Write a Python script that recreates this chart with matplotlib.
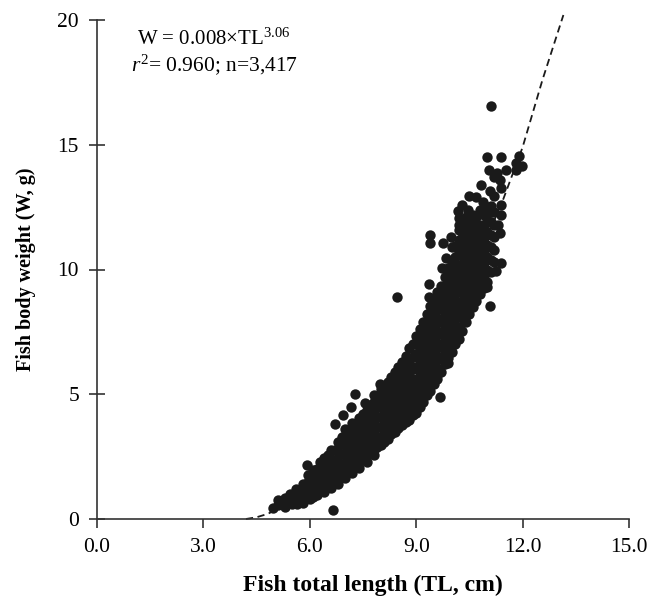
import matplotlib
matplotlib.use("Agg")
import matplotlib.pyplot as plt

plt.rcParams["font.family"] = ["Liberation Serif"]
plt.rcParams["mathtext.fontset"] = "custom"
plt.rcParams["mathtext.rm"] = "Liberation Serif"
plt.rcParams["mathtext.it"] = "Liberation Serif:italic"

INK = "#1a1a1a"

# main cloud (TL, then weights at that TL)
tl_rows = [5.1, 5.3, 5.45, 5.6, 5.8, 5.95, 6.1, 6.2, 6.4, 6.6, 6.8, 7.0, 7.2, 7.4, 7.6, 7.8, 8.0, 8.2,
           8.4, 8.6, 8.8, 9.0, 9.2, 9.4, 9.6, 9.8, 10.0, 10.2, 10.4, 10.6, 10.8, 11.0, 11.2]
weight_rows = [
    [0.55, 0.75],
    [0.6, 0.85],
    [0.7, 1.0],
    [0.65, 0.9, 1.2],
    [0.75, 1.05, 1.4],
    [0.85, 1.15, 1.5, 1.75],
    [0.9, 1.25, 1.6, 1.95],
    [1.0, 1.3, 1.65, 2.0],
    [1.2, 1.5, 1.85, 2.15, 2.45],
    [1.35, 1.7, 2.05, 2.4, 2.75],
    [1.6, 1.95, 2.3, 2.7, 3.1],
    [1.9, 2.2, 2.55, 2.95, 3.3, 3.6],
    [2.1, 2.45, 2.8, 3.2, 3.55, 3.85],
    [2.3, 2.65, 3.05, 3.4, 3.75, 4.05],
    [2.55, 2.9, 3.3, 3.65, 4.0, 4.35],
    [2.75, 3.1, 3.5, 3.9, 4.3, 4.7, 4.95],
    [2.95, 3.3, 3.7, 4.1, 4.5, 4.85, 5.2],
    [3.2, 3.6, 4.0, 4.4, 4.8, 5.15, 5.5],
    [3.5, 3.9, 4.3, 4.7, 5.1, 5.5, 5.9],
    [3.75, 4.15, 4.55, 5.0, 5.4, 5.85, 6.3],
    [3.95, 4.4, 4.85, 5.3, 5.8, 6.3, 6.85],
    [4.25, 4.7, 5.15, 5.6, 6.1, 6.6, 7.0, 7.35],
    [4.7, 5.15, 5.6, 6.1, 6.6, 7.1, 7.55, 7.9],
    [5.15, 5.6, 6.1, 6.6, 7.1, 7.6, 8.1, 8.55],
    [5.6, 6.05, 6.55, 7.05, 7.55, 8.05, 8.6, 9.1],
    [6.2, 6.7, 7.2, 7.7, 8.2, 8.7, 9.2, 9.7],
    [6.7, 7.2, 7.7, 8.2, 8.7, 9.2, 9.7, 10.3],
    [7.2, 7.7, 8.2, 8.7, 9.2, 9.7, 10.2, 10.7, 11.2, 11.6],
    [7.9, 8.4, 8.9, 9.4, 9.9, 10.4, 10.9, 11.3, 11.7, 12.1],
    [8.5, 9.0, 9.5, 10.0, 10.5, 11.0, 11.4, 11.8, 12.2],
    [9.0, 9.5, 10.0, 10.5, 11.0, 11.4, 11.8, 12.4],
    [9.5, 10.0, 10.5, 11.0, 11.5, 12.0, 12.5],
    [10.3, 10.8, 11.3, 11.8, 12.3],
]

# in-between columns, the cloud is nearly solid
tl_rows_mid = [6.3, 6.5, 6.7, 6.9, 7.1, 7.3, 7.5, 7.7, 7.9, 8.1, 8.3, 8.5, 8.7, 8.9, 9.1, 9.3, 9.5, 9.7, 9.9,
               10.1, 10.3, 10.5, 10.7, 10.9, 11.1]
weight_rows_mid = [
    [1.25, 1.6, 2.0, 2.3],
    [1.45, 1.85, 2.2, 2.55],
    [1.6, 1.95, 2.35, 2.75],
    [1.85, 2.2, 2.6, 3.0, 3.3],
    [2.05, 2.4, 2.8, 3.15, 3.5],
    [2.25, 2.6, 3.0, 3.4, 3.75],
    [2.45, 2.8, 3.2, 3.6, 3.95, 4.2],
    [2.7, 3.05, 3.45, 3.85, 4.2, 4.55],
    [2.9, 3.3, 3.7, 4.1, 4.5, 4.8],
    [3.1, 3.5, 3.9, 4.3, 4.7, 5.05, 5.3],
    [3.4, 3.8, 4.2, 4.6, 5.0, 5.35, 5.7],
    [3.65, 4.05, 4.5, 4.9, 5.3, 5.7, 6.1],
    [3.9, 4.3, 4.75, 5.2, 5.65, 6.1, 6.55],
    [4.15, 4.6, 5.05, 5.5, 6.0, 6.5, 7.0],
    [4.5, 4.95, 5.4, 5.9, 6.35, 6.85, 7.3, 7.6],
    [4.95, 5.4, 5.85, 6.35, 6.85, 7.35, 7.85, 8.2],
    [5.4, 5.85, 6.3, 6.8, 7.3, 7.8, 8.3, 8.8],
    [5.9, 6.4, 6.9, 7.4, 7.9, 8.4, 8.9, 9.35],
    [6.45, 6.95, 7.45, 7.95, 8.45, 8.95, 9.45, 9.95],
    [7.0, 7.5, 8.0, 8.5, 9.0, 9.5, 10.0, 10.5, 10.95],
    [7.55, 8.05, 8.55, 9.05, 9.55, 10.05, 10.55, 11.05, 11.5, 11.95],
    [8.2, 8.7, 9.2, 9.7, 10.2, 10.7, 11.2, 11.6, 12.0],
    [8.75, 9.25, 9.75, 10.25, 10.75, 11.2, 11.6, 12.1],
    [9.25, 9.75, 10.25, 10.75, 11.25, 11.7, 12.2],
    [9.9, 10.4, 10.9, 11.4, 11.9, 12.3],
]

# lower edge of the cloud
low_tl = [5.3, 5.5, 5.65, 5.8, 6.0, 6.2, 6.4, 6.6, 6.8, 7.0, 7.2, 7.4, 7.6, 7.8, 9.58, 9.89]
low_w = [0.5, 0.62, 0.62, 0.65, 0.8, 0.95, 1.1, 1.25, 1.4, 1.65, 1.85, 2.05, 2.3, 2.55, 5.77, 6.25]

# separate points around the edge of the cloud
edge_tl = [4.95, 5.92, 6.65, 6.71, 6.94, 7.15, 7.27, 7.55, 7.97, 9.66, 8.45, 11.1, 11.0, 11.4, 11.9, 11.97, 11.8,
           11.8, 11.52, 11.05, 11.27, 11.2, 11.35, 10.82, 11.4, 11.07, 11.2, 10.48, 10.7, 10.87, 10.28, 11.4, 11.12,
           10.17, 10.45, 11.4, 10.22, 10.2, 11.3, 11.35, 9.38, 9.38, 9.97, 9.75, 10.0, 9.83, 9.72, 9.89, 11.38,
           11.24, 9.35, 11.07, 11.0, 9.35]
edge_w = [0.45, 2.17, 0.36, 3.8, 4.17, 4.47, 5.02, 4.66, 5.4, 4.9, 8.9, 16.55, 14.5, 14.5, 14.55, 14.15, 14.27,
          14.0, 14.0, 14.0, 13.87, 13.7, 13.6, 13.4, 13.27, 13.15, 12.95, 12.95, 12.9, 12.7, 12.6, 12.6, 12.55,
          12.35, 12.4, 12.2, 12.05, 11.8, 11.8, 11.45, 11.4, 11.05, 11.3, 11.05, 10.9, 10.45, 10.05, 10.05, 10.25,
          9.95, 9.4, 8.55, 9.3, 8.9]

# dashed fit as drawn
fit_tl = [4.2, 4.5, 4.8, 5.0, 5.5, 6.0, 6.5, 7.0, 7.5, 8.0, 8.5, 9.0, 9.5, 10.0, 10.5, 11.0, 11.45, 12.0, 12.56, 13.15]
fit_w = [0.0, 0.07, 0.2, 0.33, 0.75, 1.25, 1.8, 2.5, 3.3, 4.1, 5.1, 6.1, 7.3, 8.6, 9.9, 11.3, 12.8, 14.9, 17.6, 20.2]

x_ticks = [0, 3, 6, 9, 12, 15]
x_labels = ["0.0", "3.0", "6.0", "9.0", "12.0", "15.0"]
y_ticks = [0, 5, 10, 15, 20]

all_tl = tl_rows + tl_rows_mid
all_rows = weight_rows + weight_rows_mid
tl = [t for t, ws in zip(all_tl, all_rows) for _ in ws] + low_tl + edge_tl
w = [v for ws in all_rows for v in ws] + low_w + edge_w

fig = plt.figure(figsize=(6.47, 5.96), dpi=100)
ax = fig.add_axes([97 / 647, 77 / 596, 532 / 647, 499 / 596])
ax.plot(fit_tl, fit_w, color=INK, lw=1.3, ls=(0, (4, 2.5)), clip_on=False, zorder=1)
ax.scatter(tl, w, s=56, color=INK, linewidths=0, zorder=2)

ax.set_xlim(0, 15); ax.set_ylim(0, 20)
ax.set_xticks(x_ticks, x_labels); ax.set_yticks(y_ticks)
for s in ["top", "right"]:
    ax.spines[s].set_visible(False)
for s in ["left", "bottom"]:
    ax.spines[s].set_linewidth(1.2); ax.spines[s].set_color("#333333")
ax.tick_params(axis="x", direction="out", length=6.5, width=1.2, color="#333333", labelsize=15.5, pad=7)
ax.tick_params(axis="y", direction="inout", length=12, width=1.2, color="#333333", labelsize=15.5, pad=7)
ax.set_xlabel("Fish total length (TL, cm)", fontweight="bold", fontsize=17, labelpad=13)
ax.xaxis.label.set_x(0.518)
ax.set_ylabel("Fish body weight (W, g)", fontweight="bold", fontsize=14.5, labelpad=15)

ax.text(3.3, 19.25, r"W = 0.008$\times$TL$^{3.06}$", ha="center", va="center", fontsize=15)
ax.text(3.3, 18.2, r"$\mathit{r}^{\mathit{2}}$= 0.960; n=3,417", ha="center", va="center", fontsize=15.5)

fig.savefig("out.png", dpi=100)
